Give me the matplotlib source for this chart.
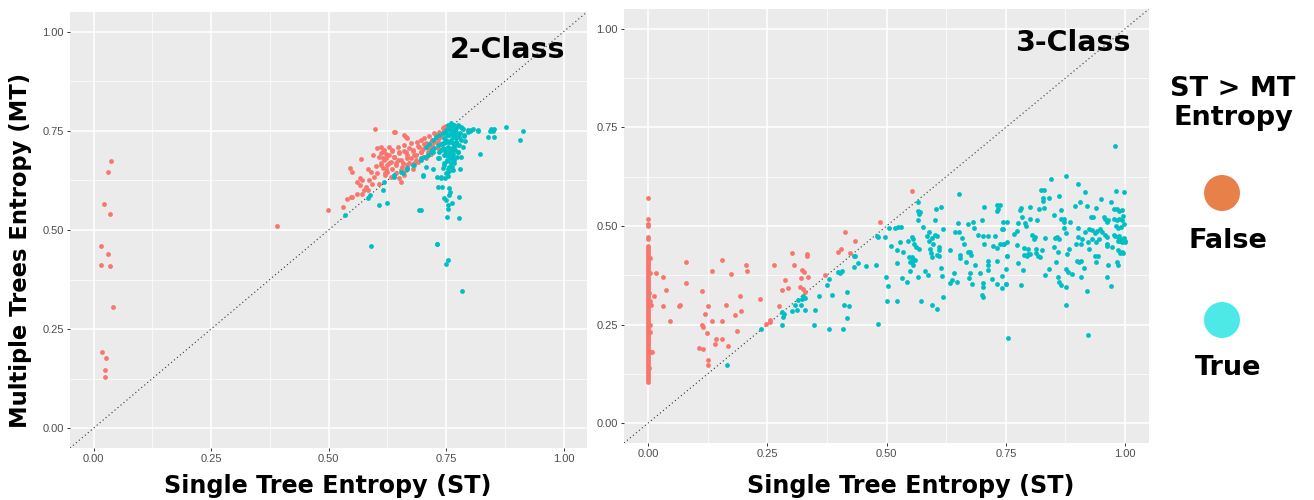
import numpy as np
import matplotlib
matplotlib.use("Agg")
import matplotlib.pyplot as plt
from matplotlib.patches import Ellipse

# ---- data ----
# 2-class panel: ST > MT entropy False (red) / True (cyan)
two_false = [
    (0.038, 0.674), (0.031, 0.647), (0.023, 0.565), (0.035, 0.540), (0.016, 0.460),
    (0.031, 0.439), (0.016, 0.412), (0.035, 0.410), (0.041, 0.306), (0.019, 0.193),
    (0.027, 0.178), (0.025, 0.146), (0.025, 0.128), (0.390, 0.510), (0.499, 0.551),
    (0.599, 0.755), (0.641, 0.747), (0.661, 0.740), (0.667, 0.731), (0.570, 0.678),
    (0.546, 0.656), (0.551, 0.647), (0.568, 0.632), (0.572, 0.626), (0.567, 0.613),
    (0.579, 0.609), (0.576, 0.601), (0.572, 0.590), (0.561, 0.592), (0.551, 0.584),
    (0.540, 0.578), (0.548, 0.583), (0.531, 0.557), (0.604, 0.706), (0.615, 0.699),
    (0.622, 0.691), (0.608, 0.685), (0.618, 0.676), (0.629, 0.668), (0.611, 0.664),
    (0.636, 0.655), (0.625, 0.647), (0.643, 0.643), (0.633, 0.634), (0.650, 0.630),
    (0.654, 0.622), (0.640, 0.685), (0.647, 0.676), (0.658, 0.668), (0.668, 0.664),
    (0.675, 0.681), (0.686, 0.689), (0.697, 0.697), (0.697, 0.727), (0.704, 0.718),
    (0.715, 0.710), (0.725, 0.723), (0.736, 0.731), (0.743, 0.744), (0.750, 0.752),
    (0.729, 0.739), (0.711, 0.697), (0.690, 0.672), (0.679, 0.655), (0.665, 0.651),
    (0.661, 0.638), (0.672, 0.706), (0.650, 0.697), (0.629, 0.710), (0.583, 0.655),
    (0.590, 0.647), (0.597, 0.634), (0.586, 0.626), (0.593, 0.617), (0.668, 0.689),
    (0.682, 0.668), (0.707, 0.681), (0.718, 0.693), (0.732, 0.706), (0.739, 0.718),
    (0.615, 0.681), (0.654, 0.651), (0.643, 0.664), (0.622, 0.655), (0.604, 0.643),
    (0.608, 0.617), (0.660, 0.700), (0.680, 0.700), (0.700, 0.705), (0.720, 0.728),
    (0.745, 0.750), (0.755, 0.758), (0.760, 0.762), (0.690, 0.712), (0.635, 0.700),
    (0.595, 0.690), (0.600, 0.662), (0.620, 0.640), (0.560, 0.620), (0.585, 0.600),
    (0.611, 0.710), (0.611, 0.694), (0.611, 0.668), (0.618, 0.702), (0.622, 0.681),
    (0.625, 0.664), (0.629, 0.689), (0.632, 0.672), (0.636, 0.702), (0.639, 0.685),
    (0.643, 0.668), (0.647, 0.710), (0.650, 0.694), (0.654, 0.677), (0.657, 0.660),
    (0.661, 0.715), (0.664, 0.698), (0.668, 0.681), (0.672, 0.668), (0.675, 0.719),
    (0.679, 0.702), (0.682, 0.689), (0.686, 0.677), (0.689, 0.723), (0.693, 0.710),
    (0.696, 0.698), (0.700, 0.685), (0.704, 0.731), (0.707, 0.719), (0.711, 0.706),
    (0.714, 0.736), (0.718, 0.723), (0.721, 0.715), (0.725, 0.744), (0.729, 0.731),
    (0.732, 0.723), (0.736, 0.748), (0.739, 0.740), (0.743, 0.757), (0.746, 0.761),
    (0.750, 0.763), (0.615, 0.656), (0.620, 0.643), (0.640, 0.748), (0.664, 0.734),
]
two_true = [
    (0.697, 0.550), (0.701, 0.637), (0.705, 0.683), (0.722, 0.653), (0.731, 0.633),
    (0.736, 0.682), (0.739, 0.630), (0.741, 0.609), (0.746, 0.580), (0.750, 0.575),
    (0.754, 0.564), (0.754, 0.552), (0.752, 0.533), (0.757, 0.606), (0.759, 0.595),
    (0.757, 0.588), (0.762, 0.567), (0.777, 0.584), (0.777, 0.531), (0.731, 0.465),
    (0.754, 0.425), (0.750, 0.415), (0.783, 0.346), (0.779, 0.655), (0.768, 0.668),
    (0.822, 0.692), (0.818, 0.750), (0.807, 0.755), (0.800, 0.750), (0.846, 0.755),
    (0.853, 0.755), (0.843, 0.750), (0.850, 0.750), (0.839, 0.734), (0.852, 0.734),
    (0.877, 0.761), (0.914, 0.751), (0.907, 0.726), (0.754, 0.765), (0.761, 0.769),
    (0.768, 0.766), (0.775, 0.765), (0.782, 0.761), (0.786, 0.756), (0.757, 0.756),
    (0.764, 0.752), (0.771, 0.748), (0.779, 0.744), (0.750, 0.748), (0.743, 0.744),
    (0.736, 0.740), (0.729, 0.735), (0.722, 0.727), (0.714, 0.718), (0.707, 0.710),
    (0.757, 0.740), (0.764, 0.735), (0.771, 0.731), (0.761, 0.723), (0.768, 0.718),
    (0.775, 0.714), (0.754, 0.710), (0.762, 0.706), (0.769, 0.702), (0.757, 0.697),
    (0.764, 0.691), (0.750, 0.689), (0.759, 0.682), (0.752, 0.674), (0.761, 0.670),
    (0.746, 0.664), (0.755, 0.655), (0.750, 0.643), (0.754, 0.637), (0.748, 0.630),
    (0.782, 0.727), (0.786, 0.710), (0.789, 0.740), (0.796, 0.752), (0.746, 0.731),
    (0.739, 0.718), (0.743, 0.706), (0.736, 0.697), (0.725, 0.706), (0.718, 0.697),
    (0.711, 0.689), (0.774, 0.685), (0.768, 0.676), (0.776, 0.696), (0.536, 0.537),
    (0.583, 0.580), (0.588, 0.588), (0.608, 0.564), (0.625, 0.569), (0.615, 0.601),
    (0.640, 0.634), (0.658, 0.643), (0.668, 0.655), (0.679, 0.664), (0.697, 0.681),
    (0.700, 0.638), (0.707, 0.659), (0.693, 0.550), (0.722, 0.697), (0.732, 0.682),
    (0.739, 0.634), (0.732, 0.609), (0.591, 0.460), (0.730, 0.465), (0.760, 0.728),
    (0.765, 0.745), (0.770, 0.755), (0.758, 0.760), (0.752, 0.722), (0.748, 0.700),
    (0.766, 0.712), (0.772, 0.722), (0.778, 0.735), (0.760, 0.700), (0.755, 0.690),
    (0.762, 0.660), (0.756, 0.648), (0.765, 0.680), (0.745, 0.720), (0.790, 0.725),
    (0.750, 0.753), (0.757, 0.757), (0.764, 0.761), (0.771, 0.757), (0.778, 0.763),
    (0.785, 0.757), (0.753, 0.740), (0.761, 0.744), (0.768, 0.736), (0.775, 0.740),
    (0.750, 0.727), (0.757, 0.723), (0.764, 0.719), (0.771, 0.723), (0.778, 0.715),
    (0.753, 0.706), (0.761, 0.702), (0.768, 0.706), (0.775, 0.698), (0.757, 0.689),
    (0.764, 0.685), (0.753, 0.677), (0.762, 0.672), (0.757, 0.660), (0.764, 0.651),
    (0.753, 0.643), (0.743, 0.719), (0.739, 0.702), (0.746, 0.689), (0.789, 0.736),
    (0.796, 0.748), (0.803, 0.753), (0.818, 0.753), (0.782, 0.685), (0.746, 0.668),
    (0.743, 0.656), (0.682, 0.664), (0.696, 0.677), (0.711, 0.689), (0.721, 0.702),
    (0.732, 0.715), (0.654, 0.647), (0.668, 0.656), (0.639, 0.639), (0.618, 0.622),
]

# 3-class panel
three_false = [
    (0.000, 0.105), (0.000, 0.110), (0.000, 0.115), (0.000, 0.120), (0.000, 0.125),
    (0.000, 0.130), (0.000, 0.135), (0.000, 0.140), (0.000, 0.145), (0.000, 0.150),
    (0.000, 0.155), (0.000, 0.160), (0.000, 0.165), (0.000, 0.170), (0.000, 0.175),
    (0.000, 0.180), (0.000, 0.185), (0.000, 0.190), (0.000, 0.195), (0.000, 0.200),
    (0.000, 0.205), (0.000, 0.210), (0.000, 0.215), (0.000, 0.220), (0.000, 0.225),
    (0.000, 0.230), (0.000, 0.235), (0.000, 0.240), (0.000, 0.245), (0.000, 0.250),
    (0.000, 0.255), (0.000, 0.260), (0.000, 0.265), (0.000, 0.270), (0.000, 0.275),
    (0.000, 0.280), (0.000, 0.285), (0.000, 0.290), (0.000, 0.295), (0.000, 0.300),
    (0.000, 0.305), (0.000, 0.310), (0.000, 0.315), (0.000, 0.320), (0.000, 0.325),
    (0.000, 0.330), (0.000, 0.335), (0.000, 0.340), (0.000, 0.345), (0.000, 0.350),
    (0.000, 0.355), (0.000, 0.360), (0.000, 0.365), (0.000, 0.370), (0.000, 0.375),
    (0.000, 0.380), (0.000, 0.385), (0.000, 0.390), (0.000, 0.395), (0.000, 0.400),
    (0.000, 0.405), (0.000, 0.410), (0.000, 0.415), (0.000, 0.420), (0.000, 0.425),
    (0.000, 0.430), (0.000, 0.435), (0.000, 0.440), (0.000, 0.445), (0.000, 0.450),
    (0.000, 0.467), (0.000, 0.473), (0.000, 0.501), (0.000, 0.505), (0.000, 0.519),
    (0.000, 0.571), (0.004, 0.250), (0.005, 0.310), (0.004, 0.380), (0.006, 0.300),
    (0.005, 0.180), (0.003, 0.140), (0.004, 0.420), (0.003, 0.330), (0.004, 0.232),
    (0.018, 0.380), (0.031, 0.372), (0.037, 0.337), (0.013, 0.322), (0.031, 0.297),
    (0.047, 0.260), (0.008, 0.181), (0.065, 0.296), (0.067, 0.299), (0.079, 0.409),
    (0.080, 0.356), (0.113, 0.334), (0.125, 0.297), (0.119, 0.276), (0.113, 0.250),
    (0.116, 0.244), (0.124, 0.229), (0.108, 0.191), (0.116, 0.188), (0.127, 0.160),
    (0.127, 0.148), (0.134, 0.387), (0.155, 0.413), (0.174, 0.379), (0.205, 0.400),
    (0.208, 0.387), (0.163, 0.299), (0.194, 0.323), (0.135, 0.259), (0.155, 0.259),
    (0.182, 0.274), (0.196, 0.285), (0.186, 0.233), (0.143, 0.214), (0.155, 0.214),
    (0.141, 0.202), (0.168, 0.196), (0.235, 0.316), (0.264, 0.400), (0.275, 0.297),
    (0.247, 0.251), (0.256, 0.263), (0.256, 0.257), (0.288, 0.364), (0.294, 0.342),
    (0.280, 0.339), (0.302, 0.432), (0.307, 0.400), (0.333, 0.424), (0.334, 0.429),
    (0.327, 0.384), (0.320, 0.368), (0.335, 0.372), (0.323, 0.388), (0.319, 0.345),
    (0.326, 0.341), (0.329, 0.333), (0.371, 0.377), (0.398, 0.434), (0.404, 0.442),
    (0.413, 0.486), (0.424, 0.431), (0.435, 0.461), (0.486, 0.511), (0.554, 0.589),
]
three_true = [
    (0.165, 0.148), (0.237, 0.238), (0.282, 0.281), (0.285, 0.276), (0.283, 0.269),
    (0.282, 0.250), (0.302, 0.284), (0.308, 0.299), (0.312, 0.286), (0.315, 0.312),
    (0.323, 0.316), (0.326, 0.323), (0.330, 0.318), (0.329, 0.288), (0.321, 0.299),
    (0.350, 0.288), (0.358, 0.323), (0.375, 0.350), (0.380, 0.366), (0.386, 0.325),
    (0.408, 0.239), (0.380, 0.240), (0.349, 0.248), (0.411, 0.299), (0.421, 0.297),
    (0.417, 0.332), (0.418, 0.267), (0.398, 0.383), (0.402, 0.382), (0.407, 0.387),
    (0.431, 0.423), (0.434, 0.425), (0.431, 0.396), (0.441, 0.407), (0.458, 0.399),
    (0.478, 0.402), (0.481, 0.474), (0.482, 0.252), (0.483, 0.473), (0.497, 0.471),
    (0.506, 0.495), (0.518, 0.495), (0.525, 0.498), (0.530, 0.498), (0.509, 0.449),
    (0.498, 0.370), (0.504, 0.349), (0.500, 0.309), (0.523, 0.440), (0.528, 0.460),
    (0.534, 0.435), (0.521, 0.407), (0.532, 0.368), (0.542, 0.359), (0.523, 0.311),
    (0.546, 0.463), (0.553, 0.471), (0.556, 0.467), (0.558, 0.455), (0.562, 0.446),
    (0.569, 0.442), (0.548, 0.421), (0.553, 0.421), (0.556, 0.417), (0.560, 0.415),
    (0.549, 0.408), (0.553, 0.410), (0.556, 0.400), (0.549, 0.387), (0.565, 0.562),
    (0.567, 0.539), (0.570, 0.535), (0.569, 0.530), (0.565, 0.516), (0.576, 0.497),
    (0.572, 0.309), (0.567, 0.370), (0.581, 0.387), (0.586, 0.377), (0.584, 0.474),
    (0.589, 0.484), (0.588, 0.463), (0.595, 0.469), (0.598, 0.455), (0.591, 0.442),
    (0.593, 0.432), (0.595, 0.421), (0.602, 0.514), (0.604, 0.543), (0.614, 0.547),
    (0.602, 0.477), (0.605, 0.474), (0.609, 0.446), (0.610, 0.438), (0.605, 0.427),
    (0.609, 0.423), (0.614, 0.393), (0.616, 0.373), (0.619, 0.492), (0.595, 0.301),
    (0.606, 0.290), (0.619, 0.320), (0.633, 0.438), (0.641, 0.381), (0.637, 0.362),
    (0.634, 0.356), (0.647, 0.358), (0.651, 0.580), (0.649, 0.507), (0.644, 0.484),
    (0.652, 0.486), (0.658, 0.469), (0.662, 0.455), (0.654, 0.427), (0.654, 0.419),
    (0.667, 0.410), (0.671, 0.434), (0.676, 0.427), (0.675, 0.435), (0.670, 0.505),
    (0.682, 0.511), (0.684, 0.494), (0.691, 0.476), (0.674, 0.381), (0.673, 0.369),
    (0.679, 0.352), (0.685, 0.400), (0.695, 0.380), (0.701, 0.516), (0.703, 0.474),
    (0.713, 0.474), (0.705, 0.455), (0.702, 0.355), (0.703, 0.345), (0.701, 0.324),
    (0.703, 0.320), (0.705, 0.547), (0.713, 0.412), (0.713, 0.400), (0.713, 0.389),
    (0.723, 0.449), (0.732, 0.444), (0.737, 0.455), (0.732, 0.553), (0.734, 0.543),
    (0.732, 0.539), (0.727, 0.474), (0.721, 0.366), (0.731, 0.354), (0.741, 0.374),
    (0.750, 0.354), (0.746, 0.455), (0.752, 0.459), (0.731, 0.412), (0.743, 0.492),
    (0.745, 0.511), (0.752, 0.423), (0.754, 0.215), (0.738, 0.553), (0.744, 0.492),
    (0.753, 0.511), (0.745, 0.455), (0.753, 0.423), (0.751, 0.390), (0.751, 0.354),
    (0.741, 0.344), (0.767, 0.480), (0.774, 0.487), (0.776, 0.507), (0.774, 0.452),
    (0.781, 0.545), (0.779, 0.540), (0.783, 0.524), (0.776, 0.406), (0.786, 0.389),
    (0.782, 0.351), (0.788, 0.444), (0.797, 0.442), (0.788, 0.427), (0.794, 0.425),
    (0.797, 0.428), (0.801, 0.429), (0.790, 0.507), (0.792, 0.501), (0.800, 0.549),
    (0.801, 0.518), (0.804, 0.477), (0.811, 0.473), (0.808, 0.467), (0.813, 0.442),
    (0.813, 0.432), (0.818, 0.423), (0.822, 0.421), (0.825, 0.440), (0.815, 0.516),
    (0.820, 0.543), (0.823, 0.591), (0.829, 0.591), (0.827, 0.572), (0.827, 0.564),
    (0.831, 0.545), (0.832, 0.469), (0.841, 0.572), (0.832, 0.375), (0.841, 0.391),
    (0.844, 0.620), (0.850, 0.528), (0.853, 0.469), (0.858, 0.471), (0.862, 0.467),
    (0.851, 0.446), (0.862, 0.575), (0.865, 0.540), (0.866, 0.519), (0.871, 0.518),
    (0.855, 0.408), (0.860, 0.433), (0.860, 0.372), (0.862, 0.359), (0.865, 0.351),
    (0.876, 0.627), (0.872, 0.495), (0.876, 0.482), (0.872, 0.509), (0.876, 0.391),
    (0.876, 0.345), (0.879, 0.429), (0.883, 0.442), (0.881, 0.383), (0.888, 0.379),
    (0.876, 0.301), (0.885, 0.509), (0.895, 0.551), (0.901, 0.606), (0.906, 0.561),
    (0.901, 0.494), (0.902, 0.471), (0.897, 0.455), (0.908, 0.455), (0.909, 0.467),
    (0.900, 0.412), (0.904, 0.408), (0.908, 0.412), (0.913, 0.393), (0.907, 0.372),
    (0.921, 0.334), (0.915, 0.587), (0.921, 0.551), (0.928, 0.522), (0.932, 0.524),
    (0.939, 0.545), (0.923, 0.223), (0.916, 0.486), (0.925, 0.492), (0.930, 0.491),
    (0.936, 0.482), (0.941, 0.487), (0.948, 0.492), (0.951, 0.484), (0.923, 0.460),
    (0.930, 0.467), (0.939, 0.459), (0.946, 0.467), (0.925, 0.442), (0.937, 0.423),
    (0.944, 0.423), (0.939, 0.410), (0.950, 0.568), (0.956, 0.522), (0.958, 0.518),
    (0.965, 0.516), (0.962, 0.509), (0.958, 0.477), (0.962, 0.471), (0.963, 0.455),
    (0.962, 0.450), (0.972, 0.446), (0.962, 0.370), (0.965, 0.400), (0.970, 0.349),
    (0.979, 0.703), (0.970, 0.562), (0.976, 0.543), (0.983, 0.543), (0.988, 0.539),
    (0.993, 0.541), (0.995, 0.526), (0.981, 0.589), (0.998, 0.587), (0.976, 0.519),
    (0.983, 0.514), (0.988, 0.518), (0.993, 0.514), (0.997, 0.505), (0.991, 0.498),
    (0.986, 0.494), (0.981, 0.501), (0.976, 0.476), (0.979, 0.474), (0.984, 0.471),
    (0.988, 0.474), (0.993, 0.467), (0.998, 0.469), (0.999, 0.462), (0.986, 0.461),
    (0.990, 0.463), (0.994, 0.459), (0.999, 0.459), (0.986, 0.440), (0.993, 0.434),
    (0.990, 0.432), (0.995, 0.431), (0.983, 0.408), (0.986, 0.402),
]

ticks = [0.0, 0.25, 0.5, 0.75, 1.0]
tick_labels = ["0.00", "0.25", "0.50", "0.75", "1.00"]
panel_titles = ["2-Class", "3-Class"]
legend_labels = ["False", "True"]

RED = "#F8766D"
CYAN = "#00BFC4"
BOLD = dict(family="DejaVu Sans", fontweight="bold", color="black")

fig = plt.figure(figsize=(13.14, 5.0), dpi=100)
W, H = 1314.0, 500.0

def px_axes(left, top, right, bottom):
    return fig.add_axes([left / W, 1 - bottom / H, (right - left) / W, (bottom - top) / H])

def style_panel(ax):
    ax.set_facecolor("#EBEBEB")
    ax.set_xlim(-0.05, 1.05)
    ax.set_ylim(-0.05, 1.05)
    ax.set_xticks(ticks)
    ax.set_yticks(ticks)
    ax.set_xticks([0.125, 0.375, 0.625, 0.875], minor=True)
    ax.set_yticks([0.125, 0.375, 0.625, 0.875], minor=True)
    ax.set_xticklabels(tick_labels, family="Liberation Sans", fontsize=8, color="#4D4D4D")
    ax.set_yticklabels(tick_labels, family="Liberation Sans", fontsize=8, color="#4D4D4D")
    ax.grid(which="major", color="white", linewidth=1.1)
    ax.grid(which="minor", color="white", linewidth=0.5)
    ax.set_axisbelow(True)
    ax.tick_params(which="major", length=2.5, color="#333333", width=0.7, pad=2)
    ax.tick_params(which="minor", length=0)
    for s in ax.spines.values():
        s.set_visible(False)
    ax.axline((0, 0), slope=1, color="#333333", linestyle=(0, (1, 2.5)), linewidth=0.8, zorder=1)

def scatter(ax, pts, color):
    arr = np.array(pts)
    ax.scatter(arr[:, 0], arr[:, 1], s=12, color=color, linewidths=0, zorder=2)

ax1 = px_axes(70, 12, 587, 448)
style_panel(ax1)
scatter(ax1, two_false, RED)
scatter(ax1, two_true, CYAN)
ax1.text(0.957, 0.913, panel_titles[0], transform=ax1.transAxes, ha="right", va="center",
         fontsize=20.5, **BOLD)

ax2 = px_axes(624, 9, 1149, 443)
style_panel(ax2)
scatter(ax2, three_false, RED)
scatter(ax2, three_true, CYAN)
ax2.text(0.964, 0.922, panel_titles[1], transform=ax2.transAxes, ha="right", va="center",
         fontsize=20.5, **BOLD)

# axis labels
fig.text(328 / W, 1 - 486 / H, "Single Tree Entropy (ST)", ha="center", va="center", fontsize=17.2, **BOLD)
fig.text(911 / W, 1 - 486 / H, "Single Tree Entropy (ST)", ha="center", va="center", fontsize=17.2, **BOLD)
fig.text(21 / W, 1 - 250 / H, "Multiple Trees Entropy (MT)", ha="center", va="center",
         rotation=90, fontsize=16.3, **BOLD)

# legend
fig.text(1233 / W, 1 - 89 / H, "ST > MT", ha="center", va="center", fontsize=19.5, **BOLD)
fig.text(1233 / W, 1 - 118 / H, "Entropy", ha="center", va="center", fontsize=19.5, **BOLD)
leg_colors = ["#E8804A", "#4DE8E8"]
for i, (lab, col) in enumerate(zip(legend_labels, leg_colors)):
    cy = 193 + i * 127
    fig.patches.append(Ellipse((1222 / W, 1 - cy / H), 36 / W, 36 / H, transform=fig.transFigure,
                               facecolor=col, edgecolor="none"))
    fig.text(1228 / W, 1 - (cy + 48) / H, lab, ha="center", va="center", fontsize=19.5, **BOLD)

fig.savefig("out.png", dpi=100)
